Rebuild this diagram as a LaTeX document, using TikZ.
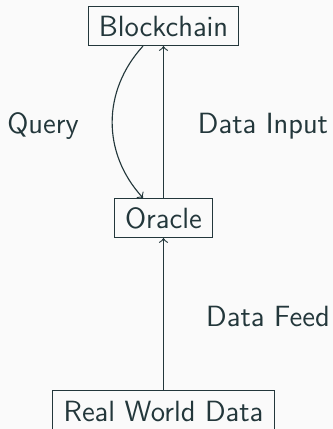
\documentclass[tikz,border=0pt]{standalone}
\usepackage{tikz}
\definecolor{bgcol}{HTML}{FAFAFA}
\definecolor{fgcol}{HTML}{23373B}
\begin{document}
\begin{tikzpicture}[x=0.4pt,y=-0.4pt,
  every node/.style={font=\sffamily\fontsize{11.7}{14}\selectfont, text=fgcol},
  box/.style={draw=fgcol, line width=0.45pt, minimum height=15.6pt, inner xsep=4.3pt, inner ysep=2pt},
  link/.style={draw=fgcol, line width=0.45pt, ->}]
  % canvas
  \fill[bgcol] (0,0) rectangle (333,429);
  \useasboundingbox (0,0) rectangle (333,429);
  % nodes
  \node[box] (bc) at (163.5,26) {Blockchain};
  \node[box] (or) at (163.5,218) {Oracle};
  \node[box, minimum height=17pt] (rw) at (163.5,411.5) {Real World Data};
  % labels
  \node (lq) at (43,126) {Query};
  \node (ldi) at (263,126) {Data Input};
  \node (ldf) at (268,316) {Data Feed};
  % connectors
  \draw[link] (or.north) -- (bc.south);
  \draw[link] (rw.north) -- (or.south);
  \draw[link] ([xshift=-8.2pt]bc.south) .. controls +(-41,45) and +(-41,-45) .. ([xshift=-8.2pt]or.north);
\end{tikzpicture}
\end{document}
